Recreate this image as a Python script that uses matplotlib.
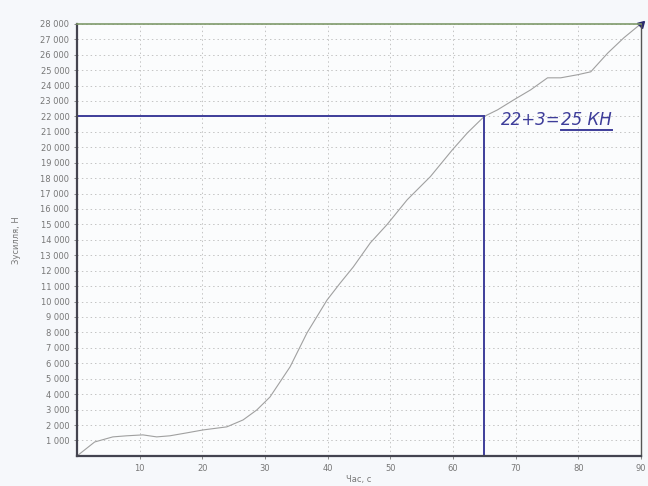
import matplotlib.pyplot as plt
import numpy as np

# force vs time
time_s = [0, 2.8, 5.7, 7.9, 10.5, 12.7, 14.8, 17.5, 20.1, 23.9, 26.5, 28.7, 30.8,
          34.0, 36.7, 39.9, 42.0, 44.1, 46.8, 49.5, 52.7, 56.4, 59.9, 62.3, 65.0,
          67.1, 69.7, 72.4, 75.1, 77.2, 79.9, 82.0, 84.7, 87.3, 90.0]
force_n = [0, 900, 1230, 1300, 1360, 1230, 1300, 1490, 1680, 1880, 2330, 2980, 3820,
           5770, 7970, 10100, 11200, 12250, 13800, 15000, 16600, 18100, 19830, 20930, 22000,
           22420, 23070, 23720, 24500, 24500, 24700, 24890, 26100, 27100, 28000]

x_ticks = [10, 20, 30, 40, 50, 60, 70, 80, 90]
y_ticks = list(range(1000, 29000, 1000))

read_t = 65
read_f = 22000
note_left = "22+3="
note_right = "25 КН"

ink = "#3e3d9a"

fig = plt.figure(figsize=(6.48, 4.86), dpi=100, facecolor="#f6f8fb")
ax = fig.add_axes([0.119, 0.062, 0.870, 0.889])
ax.set_facecolor("#fbfcfd")

ax.plot(time_s, force_n, color="#a0a0a0", linewidth=0.8)

# reading lines drawn by hand on the print
ax.plot([0, read_t], [read_f, read_f], color=ink, linewidth=1.4)
ax.plot([read_t, read_t], [0, read_f], color=ink, linewidth=1.4)
ax.plot([time_s[-1]], [force_n[-1]], marker=(3, 0, -45), color="#2a2a70", markersize=6, clip_on=False)

ax.set_xlim(0, 90)
ax.set_ylim(0, 28000)
ax.set_xticks(x_ticks)
ax.set_yticks(y_ticks)
ax.set_yticklabels([f"{v:,}".replace(",", " ") for v in y_ticks])
ax.tick_params(labelsize=6, colors="#777777", length=2, width=0.6)
ax.grid(True, color="#c4c4c4", linestyle=(0, (1.5, 3)), linewidth=0.7)

for side in ["left", "bottom"]:
    ax.spines[side].set_linewidth(1.6)
    ax.spines[side].set_color("#444450")
ax.spines["top"].set_color("#7f9a6a")
ax.spines["top"].set_linewidth(1.2)
ax.spines["right"].set_color("#555555")
ax.spines["right"].set_linewidth(1.0)

ax.set_xlabel("Час, с", fontsize=6, color="#777777", labelpad=2)
ax.set_ylabel("Зусилля, Н", fontsize=6, color="#777777", labelpad=14)

t1 = ax.text(67.6, 21750, note_left, fontsize=12, style="italic", color=ink,
             va="center", ha="left")
fig.canvas.draw()
bb = t1.get_window_extent()
x_next = ax.transData.inverted().transform((bb.x1 + 1, bb.y0))[0]
t2 = ax.text(x_next, 21750, note_right, fontsize=12, style="italic", color=ink,
             va="center", ha="left")
fig.canvas.draw()
bb2 = t2.get_window_extent()
p0 = ax.transData.inverted().transform((bb2.x0, bb2.y0 - 1))
p1 = ax.transData.inverted().transform((bb2.x1, bb2.y0 - 1))
ax.plot([p0[0], p1[0]], [p0[1], p1[1]], color=ink, linewidth=1.4)

fig.savefig("out.png", dpi=100, facecolor=fig.get_facecolor())
